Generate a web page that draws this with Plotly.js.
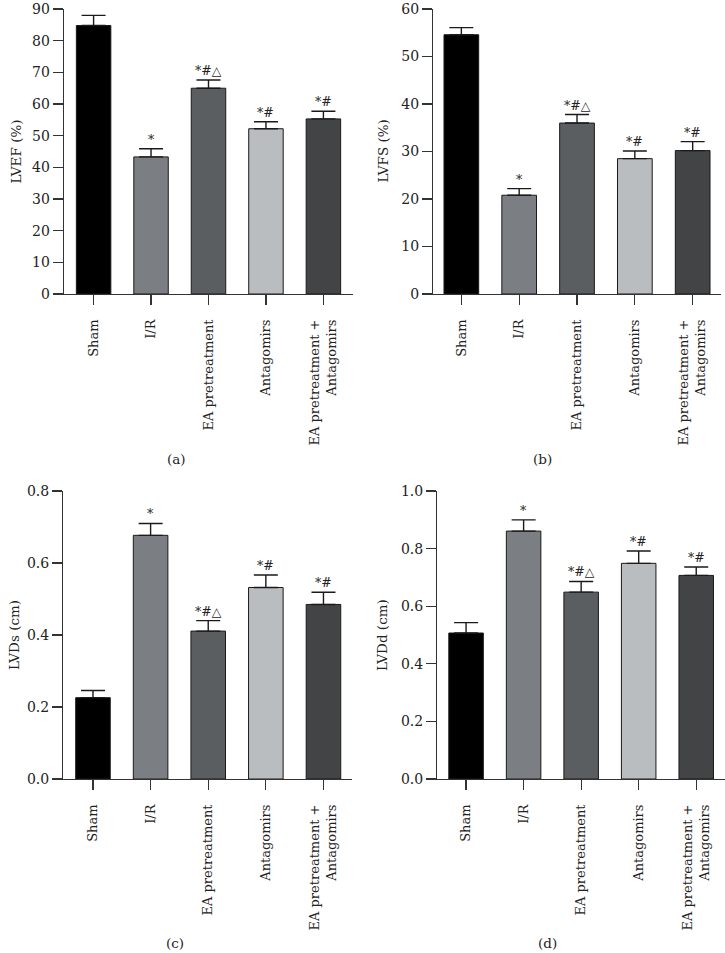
<!DOCTYPE html>
<html><head><meta charset="utf-8">
<script src="https://cdn.plot.ly/plotly-3.0.1.min.js"></script>
<style>html,body{margin:0;padding:0;background:#fff}</style>
</head><body><div id="chart" style="width:725px;height:953px"></div>
<script>
const categories = ['Sham', 'I/R', 'EA pretreatment', 'Antagomirs', 'EA pretreatment +<br>Antagomirs'];
const barColors = ['#000000', '#7b7e82', '#5b5e61', '#babdc0', '#434446'];
const sigMarks = ['', '*', '*#\u25B3', '*#', '*#'];

const lvefMean = [84.8, 43.3, 65.0, 52.2, 55.3];
const lvefErr  = [3.2, 2.6, 2.6, 2.2, 2.4];
const lvfsMean = [54.6, 20.8, 36.0, 28.5, 30.2];
const lvfsErr  = [1.5, 1.4, 1.8, 1.6, 1.9];
const lvdsMean = [0.226, 0.677, 0.411, 0.532, 0.485];
const lvdsErr  = [0.020, 0.033, 0.029, 0.035, 0.034];
const lvddMean = [0.507, 0.861, 0.649, 0.749, 0.707];
const lvddErr  = [0.036, 0.039, 0.037, 0.043, 0.029];

const yTitles = ['LVEF (%)', 'LVFS (%)', 'LVDs (cm)', 'LVDd (cm)'];
const panelLabels = ['(a)', '(b)', '(c)', '(d)'];

const FONT = 'DejaVu Serif, Liberation Serif, serif';
const W = 725, H = 953;
const px = v => v / W, py = v => 1 - v / H;

const panels = [
  {mean: lvefMean, err: lvefErr, yr: [0, 90.02], dt: 10, fmt: '', xd: [64, 353], yd: [294, 9], xr: [-0.515, 4.515], titleX: 15, labelX: 176},
  {mean: lvfsMean, err: lvfsErr, yr: [0, 60.02], dt: 10, fmt: '', xd: [433.3, 721.3], yd: [294, 9], xr: [-0.485, 4.495], titleX: 382, labelX: 542},
  {mean: lvdsMean, err: lvdsErr, yr: [0, 0.8002], dt: 0.2, fmt: '.1f', xd: [63.3, 351.7], yd: [779, 491], xr: [-0.515, 4.49], titleX: 14, labelX: 175},
  {mean: lvddMean, err: lvddErr, yr: [0, 1.0002], dt: 0.2, fmt: '.1f', xd: [437.3, 725], yd: [779, 491], xr: [-0.5, 4.5], titleX: 382, labelX: 547}
];

const xIdx = categories.map((c, i) => i);
const data = [];
const layout = {
  width: W, height: H, margin: {l: 0, r: 0, t: 0, b: 0},
  paper_bgcolor: '#fff', plot_bgcolor: '#fff', showlegend: false,
  font: {family: FONT, size: 12.5, color: '#222'},
  annotations: []
};

panels.forEach((p, k) => {
  const n = k + 1;
  const xa = 'x' + (n === 1 ? '' : n), ya = 'y' + (n === 1 ? '' : n);
  data.push({
    type: 'bar', x: xIdx, y: p.mean, xaxis: xa, yaxis: ya, width: 0.6,
    marker: {color: barColors, line: {color: '#1a1a1a', width: 1}},
    error_y: {type: 'data', array: p.err, arrayminus: p.err.map(() => 0), symmetric: false,
              color: '#1a1a1a', thickness: 1.4, width: 12},
    hoverinfo: 'none', cliponaxis: false
  });
  layout['xaxis' + (n === 1 ? '' : n)] = {
    domain: [px(p.xd[0]), px(p.xd[1])], range: p.xr, anchor: ya,
    tickvals: xIdx, ticktext: categories, tickangle: -90,
    ticks: 'outside', ticklen: 10, tickwidth: 1.3, tickcolor: '#333',
    ticklabelstandoff: 9, ticklabeloverflow: 'allow',
    showline: true, linecolor: '#333', linewidth: 1.3,
    showgrid: false, zeroline: false,
    tickfont: {family: FONT, size: 13, color: '#222'}
  };
  layout['yaxis' + (n === 1 ? '' : n)] = {
    domain: [py(p.yd[0]), py(p.yd[1])], range: p.yr, anchor: xa,
    dtick: p.dt, tick0: 0, tickformat: p.fmt, ticklabeloverflow: 'allow',
    ticks: 'outside', ticklen: 10, tickwidth: 1.3, tickcolor: '#333',
    showline: true, linecolor: '#333', linewidth: 1.3,
    showgrid: false, zeroline: false,
    tickfont: {family: FONT, size: 14, color: '#222'}
  };
  sigMarks.forEach((s, i) => {
    if (!s) return;
    layout.annotations.push({
      xref: xa, yref: ya, x: i, y: p.mean[i] + p.err[i], text: s,
      showarrow: false, yanchor: 'bottom', yshift: 0,
      font: {family: FONT, size: 12.5, color: '#222'}
    });
  });
  layout.annotations.push({
    xref: 'paper', yref: 'paper', x: px(p.titleX), y: py((p.yd[0] + p.yd[1]) / 2),
    text: yTitles[k], textangle: -90, showarrow: false,
    xanchor: 'center', yanchor: 'middle',
    font: {family: FONT, size: 13.5, color: '#222'}
  });
  layout.annotations.push({
    xref: 'paper', yref: 'paper', x: px(p.labelX), y: py(k < 2 ? 459 : 943),
    text: panelLabels[k], showarrow: false, xanchor: 'center', yanchor: 'middle',
    font: {family: FONT, size: 13.5, color: '#222'}
  });
});

Plotly.newPlot('chart', data, layout, {staticPlot: true, displayModeBar: false});
</script></body></html>
